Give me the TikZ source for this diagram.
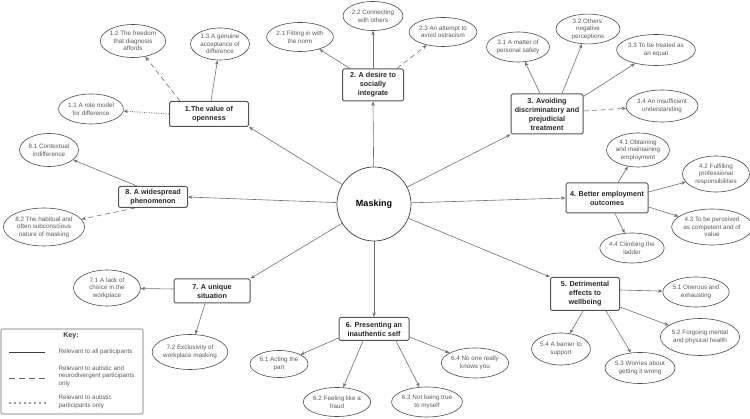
\documentclass[tikz,border=0pt]{standalone}
\usepackage{fontspec}
\setmainfont{Liberation Sans}
\usetikzlibrary{shapes.geometric, arrows.meta}

\definecolor{linegray}{HTML}{707070}
\definecolor{boxgray}{HTML}{555555}
\definecolor{textgray}{HTML}{5A5A5A}

\begin{document}
\begin{tikzpicture}[x=1pt, y=-1pt,
    theme/.style={draw=boxgray, line width=1pt, rounded corners=1.5pt, fill=white,
      align=center, inner sep=1pt, text=black!85,
      font=\fontsize{7.2}{9}\selectfont\bfseries},
    sub/.style={ellipse, draw=black!70, line width=0.6pt, fill=white, align=center,
      inner sep=0pt, text=textgray, font=\fontsize{6.3}{7.6}\selectfont},
    link/.style={draw=linegray, line width=0.6pt, -{Stealth[length=4.5pt, width=3.5pt]}},
    dashlink/.style={link, dash pattern=on 5pt off 3.5pt},
    dotlink/.style={link, line width=0.9pt, dash pattern=on 0.9pt off 1.5pt},
    keytext/.style={anchor=west, align=left, text=textgray, font=\fontsize{6.3}{7.6}\selectfont},
  ]
    \useasboundingbox (0,0) rectangle (750,419);

    % Centre
    \node[circle, draw=black!75, line width=0.7pt, minimum size=74pt, inner sep=0pt,
      font=\fontsize{9}{11}\selectfont\bfseries] (mask) at (374,204) {Masking};

    % Themes
    \node[theme, minimum width=79pt, minimum height=25pt] (t1) at (209,114) {1.The value of\\openness};
    \node[theme, minimum width=61pt, minimum height=32pt] (t2) at (373,85) {2. A desire to\\socially\\integrate};
    \node[theme, minimum width=72pt, minimum height=40pt] (t3) at (547,114) {3. Avoiding\\discriminatory and\\prejudicial\\treatment};
    \node[theme, minimum width=82pt, minimum height=30pt] (t4) at (607,198) {4. Better employment\\outcomes};
    \node[theme, minimum width=69pt, minimum height=33pt] (t5) at (585,294) {5. Detrimental\\effects to\\wellbeing};
    \node[theme, minimum width=70pt, minimum height=23pt] (t6) at (374,329) {6. Presenting an\\inauthentic self};
    \node[theme, minimum width=76pt, minimum height=24pt] (t7) at (212,291) {7. A unique\\situation};
    \node[theme, minimum width=69pt, minimum height=21pt] (t8) at (153,197) {8. A widespread\\phenomenon};

    % Centre to themes
    \draw[link] (mask) -- (t1.south east);
    \draw[link] (mask) -- (t2.south);
    \draw[link] (mask) -- (t3.south west);
    \draw[link] (mask) -- (t4.west);
    \draw[link] (mask) -- (t5.north west);
    \draw[link] (mask) -- (t6.north);
    \draw[link] (mask) -- (t7.north east);
    \draw[link] (mask) -- (t8.east);

    % Theme 1
    \node[sub, minimum width=63pt, minimum height=30pt] (s11) at (91,109) {1.1 A role model\\for difference};
    \node[sub, minimum width=65pt, minimum height=33pt] (s12) at (133,41) {1.2 The freedom\\that diagnosis\\affords};
    \node[sub, minimum width=59pt, minimum height=32pt] (s13) at (220,44) {1.3 A genuine\\acceptance of\\difference};
    \draw[dotlink] (t1.west) -- (s11);
    \draw[dashlink] ([xshift=-29pt]t1.north) -- (s12);
    \draw[link] ([xshift=2pt]t1.north) -- (s13);

    % Theme 2
    \node[sub, minimum width=65pt, minimum height=29pt] (s21) at (300,37) {2.1 Fitting in with\\the norm};
    \node[sub, minimum width=58pt, minimum height=29pt] (s22) at (373,16) {2.2 Connecting\\with others};
    \node[sub, minimum width=62pt, minimum height=29pt] (s23) at (443,32) {2.3 An attempt to\\avoid ostracism};
    \draw[link] ([xshift=-23pt]t2.north) -- (s21);
    \draw[link] (t2.north) -- (s22);
    \draw[dashlink] ([xshift=24pt]t2.north) -- (s23);

    % Theme 3
    \node[sub, minimum width=63pt, minimum height=30pt] (s31) at (518,47) {3.1 A matter of\\personal safety};
    \node[sub, minimum width=64pt, minimum height=29pt] (s32) at (588,29) {3.2 Others'\\negative\\perceptions};
    \node[sub, minimum width=63pt, minimum height=31pt] (s33) at (656,50) {3.3 To be treated as\\an equal};
    \node[sub, minimum width=72pt, minimum height=32pt] (s34) at (662,106) {3.4 An insufficient\\understanding};
    \draw[link] ([xshift=-7pt]t3.north) -- (s31);
    \draw[link] ([xshift=15pt]t3.north) -- (s32);
    \draw[link] ([yshift=-3pt]t3.north east) -- (s33);
    \draw[dashlink] ([yshift=3pt]t3.east) -- (s34);

    % Theme 4
    \node[sub, minimum width=62pt, minimum height=34pt] (s41) at (638,150) {4.1 Obtaining\\and maintaining\\employment};
    \node[sub, minimum width=67pt, minimum height=36pt] (s42) at (716,174) {4.2 Fulfilling\\professional\\responsibilities};
    \node[sub, minimum width=74pt, minimum height=36pt] (s43) at (712,227) {4.3 To be perceived\\as competent and of\\value};
    \node[sub, minimum width=57pt, minimum height=30pt] (s44) at (632,248) {4.4 Climbing the\\ladder};
    \draw[link] ([xshift=11pt]t4.north) -- (s41);
    \draw[link] ([yshift=6pt]t4.east) -- (s42);
    \draw[link] ([yshift=-9pt]t4.east) -- (s43);
    \draw[link] ([xshift=8pt]t4.south) -- (s44);

    % Theme 5
    \node[sub, minimum width=60pt, minimum height=30pt] (s51) at (696,292) {5.1 Onerous and\\exhausting};
    \node[sub, minimum width=69pt, minimum height=37pt] (s52) at (700,337) {5.2 Forgoing mental\\and physical health};
    \node[sub, minimum width=66pt, minimum height=31pt] (s53) at (640,368) {5.3 Worries about\\getting it wrong};
    \node[sub, minimum width=58pt, minimum height=32pt] (s54) at (561,349) {5.4 A barrier to\\support};
    \draw[link] ([yshift=4pt]t5.east) -- (s51);
    \draw[link] ([yshift=-13pt]t5.east) -- (s52);
    \draw[link] ([xshift=21pt]t5.south) -- (s53);
    \draw[link] ([xshift=-2pt]t5.south) -- (s54);

    % Theme 6
    \node[sub, minimum width=58pt, minimum height=27pt] (s61) at (279,364) {6.1 Acting the\\part};
    \node[sub, minimum width=60pt, minimum height=29pt] (s62) at (337,402) {6.2 Feeling like a\\fraud};
    \node[sub, minimum width=58pt, minimum height=30pt] (s63) at (427,402) {6.3 Not being true\\to myself};
    \node[sub, minimum width=60pt, minimum height=30pt] (s64) at (475,363) {6.4 No one really\\knows you};
    \draw[link] ([yshift=-9pt]t6.west) -- (s61);
    \draw[link] ([xshift=-11pt]t6.south) -- (s62);
    \draw[link] ([xshift=22pt]t6.south) -- (s63);
    \draw[link] ([yshift=-8pt]t6.east) -- (s64);

    % Theme 7
    \node[sub, minimum width=67pt, minimum height=36pt] (s71) at (107,288) {7.1 A lack of\\choice in the\\workplace};
    \node[sub, minimum width=66pt, minimum height=35pt] (s72) at (190,352) {7.2 Exclusivity of\\workplace masking};
    \draw[link] ([yshift=2pt]t7.west) -- (s71);
    \draw[link] ([xshift=-7pt]t7.south) -- (s72);

    % Theme 8
    \node[sub, minimum width=59pt, minimum height=33pt] (s81) at (49,150) {8.1 Contextual\\indifference};
    \node[sub, minimum width=79pt, minimum height=38pt] (s82) at (44,227) {8.2 The habitual and\\often subconscious\\nature of masking};
    \draw[link] ([xshift=-16pt]t8.north) -- (s81);
    \draw[dashlink] ([xshift=-18pt]t8.south) -- (s82);

    % Key
    \node[draw=black!60, line width=0.7pt, rounded corners=1pt, minimum width=142pt,
      minimum height=85pt] (key) at (72,371.5) {};
    \node[text=black!80, font=\fontsize{7}{9}\selectfont\bfseries] (keyhead) at (71,336) {Key:};
    \coordinate (k1a) at (9,352);   \coordinate (k1b) at (45,352);
    \coordinate (k2a) at (9,378);   \coordinate (k2b) at (45,378);
    \coordinate (k3a) at (10,403);  \coordinate (k3b) at (45,403);
    \draw[draw=black!75, line width=0.7pt] (k1a) -- (k1b);
    \draw[draw=black!60, line width=0.7pt, dash pattern=on 6pt off 4pt] (k2a) -- (k2b);
    \draw[draw=black!80, line width=1.7pt, line cap=round, dash pattern=on 0pt off 5pt] (k3a) -- (k3b);
    \node[keytext] (kt1) at (55,352) {Relevant to all participants};
    \node[keytext] (kt2) at (55,376) {Relevant to autistic and\\neurodivergent participants\\only};
    \node[keytext] (kt3) at (55,402) {Relevant to autistic\\participants only};

\end{tikzpicture}
\end{document}
